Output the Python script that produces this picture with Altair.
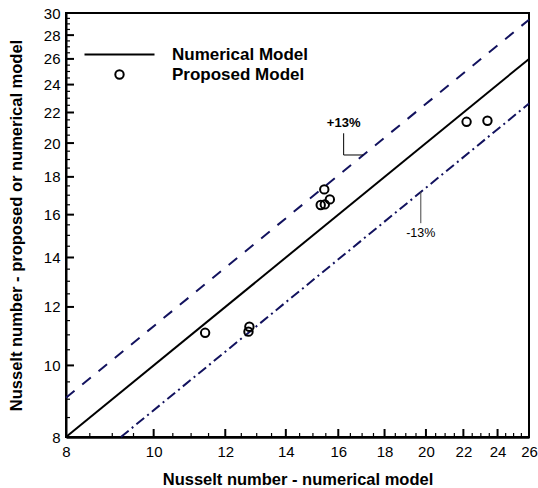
import altair as alt
import pandas as pd

# Numerical model (1:1 line) and the +/-13% band around it
num_x = [8, 26]
num_y = [8, 26]
upper_x = [8, 26]
upper_y = [9.04, 29.38]
lower_x = [9.2, 26]
lower_y = [8.0, 22.62]

# Proposed model vs. numerical model
prop_x = [11.40, 12.73, 12.76, 15.44, 15.66, 15.30, 15.46, 22.18, 23.39]
prop_y = [11.07, 11.11, 11.28, 17.31, 16.78, 16.49, 16.52, 21.37, 21.44]

# Axis ticks: labelled every 2, minor ticks every 0.5 in between
x_major = [8, 10, 12, 14, 16, 18, 20, 22, 24, 26]
y_major = [8, 10, 12, 14, 16, 18, 20, 22, 24, 26, 28, 30]
x_minor = [v + d for v in x_major[:-1] for d in (0.5, 1.0, 1.5)]
y_minor = [v + d for v in y_major[:-1] for d in (0.5, 1.0, 1.5)]

# Band annotations
plus_leader_x = [16.22, 16.22, 17.05]
plus_leader_y = [20.62, 19.27, 19.27]
minus_leader_x = [19.74, 19.74]
minus_leader_y = [17.19, 15.58]

W, H = 463, 424
NAVY = "#12125e"
FONT = "Liberation Sans"
MAJOR_LEN, MINOR_LEN = 8, 4

xs = alt.Scale(type="log", domain=[8, 26], nice=False, zero=False)
ys = alt.Scale(type="log", domain=[8, 30], nice=False, zero=False)


def label_axis(values, title, domain_width, pad, title_pad):
    return alt.Axis(values=values, ticks=False, grid=False, domainColor="black",
                    domainWidth=domain_width, labelFont=FONT, labelFontSize=15,
                    labelColor="black", labelPadding=pad, labelFlush=False,
                    labelOverlap=False, title=title, titleFont=FONT, titleFontSize=16.5,
                    titleFontWeight="bold", titleColor="black", titlePadding=title_pad)


num_df = pd.DataFrame({"x": num_x, "y": num_y})
upper_df = pd.DataFrame({"x": upper_x, "y": upper_y})
lower_df = pd.DataFrame({"x": lower_x, "y": lower_y})
prop_df = pd.DataFrame({"x": prop_x, "y": prop_y, "series": ["Proposed Model"] * len(prop_x)})
plus_df = pd.DataFrame({"x": plus_leader_x, "y": plus_leader_y, "o": range(3)})
minus_df = pd.DataFrame({"x": minus_leader_x, "y": minus_leader_y, "o": range(2)})
plus_lab = pd.DataFrame({"t": ["+13%"], "x": [16.22], "y": [21.27]})
minus_lab = pd.DataFrame({"t": ["-13%"], "x": [19.74], "y": [15.12]})

# Every layer shares the same scales; the axes are defined once on the first layer
X = lambda field="x": alt.X(f"{field}:Q", scale=xs)
Y = lambda field="y": alt.Y(f"{field}:Q", scale=ys)

numerical = alt.Chart(num_df).mark_line(color="black", strokeWidth=2).encode(
    x=alt.X("x:Q", scale=xs,
            axis=label_axis(x_major, "Nusselt number - numerical model", 2.5, 7, 12)),
    y=alt.Y("y:Q", scale=ys,
            axis=label_axis(y_major, "Nusselt number - proposed or numerical model", 2, 6, 19)),
)

upper = alt.Chart(upper_df).mark_line(color=NAVY, strokeWidth=2, strokeDash=[11, 10]).encode(
    x=X(), y=Y())
lower = alt.Chart(lower_df).mark_line(color=NAVY, strokeWidth=2, strokeDash=[10, 4, 2, 4]).encode(
    x=X(), y=Y())


# Inward tick marks along the bottom and left edges of the frame
def x_ticks(values, length, width):
    return alt.Chart(pd.DataFrame({"v": values})).mark_rule(color="black", strokeWidth=width).encode(
        x=X("v"), y=alt.value(H), y2=alt.value(H - length))


def y_ticks(values, length, width):
    return alt.Chart(pd.DataFrame({"v": values})).mark_rule(color="black", strokeWidth=width).encode(
        y=Y("v"), x=alt.value(0), x2=alt.value(length))


tick_layers = [x_ticks(x_major, MAJOR_LEN, 2), x_ticks(x_minor, MINOR_LEN, 1.2),
               y_ticks(y_major, MAJOR_LEN, 2), y_ticks(y_minor, MINOR_LEN, 1.2)]

plus_leader = alt.Chart(plus_df).mark_line(color="black", strokeWidth=1).encode(
    x=X(), y=Y(), order="o:Q")
minus_leader = alt.Chart(minus_df).mark_line(color="#444444", strokeWidth=1).encode(
    x=X(), y=Y(), order="o:Q")

plus_text = alt.Chart(plus_lab).mark_text(font=FONT, fontSize=13, fontWeight="bold",
                                          color="black").encode(x=X(), y=Y(), text="t:N")
minus_text = alt.Chart(minus_lab).mark_text(font=FONT, fontSize=12.5, color="black").encode(
    x=X(), y=Y(), text="t:N")

# Legend symbols: a long horizontal stroke for the model line and a small ring for the points
SYM = 196
line_sym = "M-5,0H5"
ring_sym = "M-0.6,0A0.6,0.6,0,1,1,0.6,0A0.6,0.6,0,1,1,-0.6,0Z"

points = alt.Chart(prop_df).mark_point(filled=False, size=SYM, strokeWidth=2,
                                       color="black", opacity=1).encode(
    x=X(), y=Y(),
    shape=alt.Shape("series:N",
                    scale=alt.Scale(domain=["Numerical Model", "Proposed Model"],
                                    range=[line_sym, ring_sym]),
                    legend=alt.Legend(orient="none", legendX=45, legendY=33, title=None,
                                      labelFont=FONT, labelFontSize=17, labelFontWeight="bold",
                                      labelColor="black", labelOffset=44, rowPadding=2,
                                      symbolSize=SYM, symbolStrokeWidth=2,
                                      symbolStrokeColor="black", padding=0)),
)

chart = alt.layer(numerical, upper, lower, *tick_layers, plus_leader, minus_leader,
                  plus_text, minus_text, points).properties(
    width=W, height=H,
    autosize=alt.AutoSizeParams(type="none"),
    padding={"left": 66, "top": 13, "right": 9, "bottom": 51},
    background="white",
).configure_view(stroke="black", strokeWidth=2)

chart.save("out.html", embed_options={"renderer": "svg", "actions": False})
